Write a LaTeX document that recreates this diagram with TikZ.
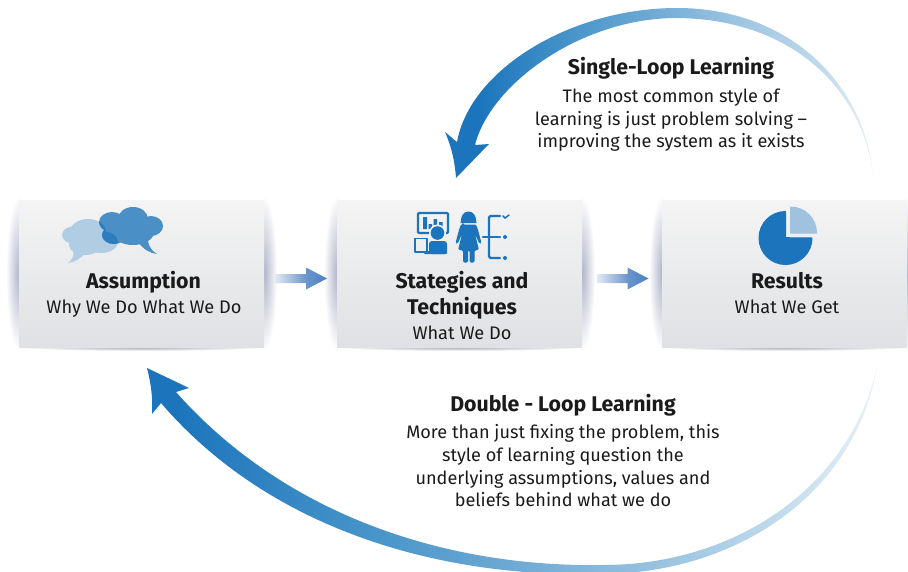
\documentclass[tikz,border=0pt]{standalone}
\usepackage{fontspec}
\setmainfont{Fira Sans}
\usetikzlibrary{calc}
\definecolor{inkc}{HTML}{1A1A1A}
\definecolor{blueA}{HTML}{1C75BC}
\definecolor{cloudD}{HTML}{4A90C6}
\definecolor{cloudO}{HTML}{2B7DBD}
\definecolor{cloudL}{HTML}{B0CDE3}
\definecolor{pieL}{HTML}{9FC2DE}
\definecolor{glowc}{HTML}{B0B4C8}
\definecolor{shadowc}{HTML}{A4A6AE}
\definecolor{boxT}{HTML}{F4F4F4}
\definecolor{boxB}{HTML}{DFE1E4}
\definecolor{sa}{HTML}{4D98CB}
\definecolor{sb}{HTML}{6EA9D4}
\definecolor{sc}{HTML}{99C2E0}
\definecolor{sd}{HTML}{C0DAEC}
\definecolor{se}{HTML}{E8F1F8}
\definecolor{fa}{HTML}{E3E9F4}
\definecolor{fb}{HTML}{6A95CC}
\definecolor{fc}{HTML}{4A80C2}
\pgfdeclarehorizontalshading{loopone}{100bp}{color(0bp)=(blueA);color(29bp)=(blueA);color(41bp)=(sa);color(49bp)=(sb);color(58bp)=(sc);color(69bp)=(sd);color(75bp)=(se);color(100bp)=(se)}
\pgfdeclarehorizontalshading{looptwo}{100bp}{color(0bp)=(blueA);color(27bp)=(blueA);color(42bp)=(sa);color(50bp)=(sb);color(60bp)=(sc);color(68bp)=(sd);color(75bp)=(se);color(100bp)=(se)}
\pgfdeclarehorizontalshading{flowsh}{100bp}{color(0bp)=(fa);color(25bp)=(fa);color(55bp)=(fb);color(75bp)=(fc);color(100bp)=(fc)}
\newcommand{\lightlobes}{(75,235) ellipse [x radius=13,y radius=9] (88,232) ellipse [x radius=18,y radius=13] (101,242) ellipse [x radius=17,y radius=11] (85,245) ellipse [x radius=16,y radius=10]}
\newcommand{\darklobes}{(112,222) ellipse [x radius=13,y radius=10] (133,219) ellipse [x radius=15,y radius=12] (151,226) ellipse [x radius=12,y radius=10] (133,232) ellipse [x radius=21,y radius=13] (114,235) ellipse [x radius=12,y radius=9]}
\tikzset{
  x=1pt,y=-1pt,
  boxnode/.style={rectangle,minimum width=245pt,minimum height=147pt,inner sep=0pt,top color=boxT,bottom color=boxB},
  glowshade/.style={inner color=glowc,outer color=white},
  shadowshade/.style={inner color=shadowc,outer color=white},
  titlenode/.style={inner sep=0pt,text=inkc,anchor=base,font=\fontsize{21.3}{26}\selectfont\bfseries},
  bodynode/.style={inner sep=0pt,text=inkc,anchor=base,font=\fontsize{18.2}{26}\selectfont},
  blocknode/.style={inner sep=0pt,text=inkc,anchor=north,align=center,font=\fontsize{18.1}{22.6}\selectfont},
  iconline/.style={draw=blueA,line width=2.3pt,line join=round,line cap=round},
}
\begin{document}
\begin{tikzpicture}
\useasboundingbox (0,0) rectangle (908,571);
% box glows, then boxes
\coordinate (c1) at (141.5,273.5);
\coordinate (c2) at (459.5,273.5);
\coordinate (c3) at (784.5,273.5);
\foreach \c in {c1,c2,c3}{
  \shade[glowshade] ($(\c)+(-122.5,0)$) ellipse [x radius=13,y radius=78];
  \shade[glowshade] ($(\c)+(122.5,0)$) ellipse [x radius=13,y radius=78];
  \shade[shadowshade] ($(\c)+(0,73.5)$) ellipse [x radius=128,y radius=4];
}
\node[boxnode] (box1) at (c1) {};
\node[boxnode] (box2) at (c2) {};
\node[boxnode] (box3) at (c3) {};
% flow arrows
\coordinate (f1a) at (275,278.5); \coordinate (f1b) at (327,278.5);
\coordinate (f2a) at (597,278.5); \coordinate (f2b) at (648.5,278.5);
\foreach \a/\b in {f1a/f1b,f2a/f2b}{
  \shade[shading=flowsh] ($(\a)+(0,-4.5)$) -- ($(\b)+(-21,-4.5)$) -- ($(\b)+(-21,-11)$) -- (\b) -- ($(\b)+(-21,11)$) -- ($(\b)+(-21,4.5)$) -- ($(\a)+(0,4.5)$) -- cycle;
}
% single loop arrow
\coordinate (s1tail) at (873,175); \coordinate (s1tip) at (456,178);
\shade[shading=loopone] (s1tail) .. controls (865,85) and (790,8) .. (677,8) .. controls (570,8) and (470,70) .. (457,142)
  -- (445,132) .. controls (452,148) and (455,163) .. (s1tip) -- (489,144) -- (475,145)
  .. controls (490,85) and (580,18) .. (677,18) .. controls (790,19) and (862,87) .. (s1tail) -- cycle;
% double loop arrow
\coordinate (d1tail) at (877,367); \coordinate (d1tip) at (147,368);
\shade[shading=looptwo] (d1tail) .. controls (855,495) and (735,574) .. (600,574) .. controls (440,578) and (270,530) .. (161,403)
  -- (152,414) .. controls (153,398) and (151,384) .. (d1tip) -- (189,388) -- (176,392)
  .. controls (285,515) and (445,567) .. (600,565) .. controls (735,566) and (850,487) .. (d1tail) -- cycle;
% labels
\node[titlenode] (t1) at (143.5,288.5) {Assumption};
\node[bodynode] (s1) at (144,313.5) {Why We Do What We Do};
\node[titlenode] (t2a) at (462,288.5) {Stategies and};
\node[titlenode] (t2b) at (462,314.3) {Techniques};
\node[bodynode] (s2) at (462,339.5) {What We Do};
\node[titlenode] (t3) at (787,288.5) {Results};
\node[bodynode] (s3) at (787,313.5) {What We Get};
\node[titlenode] (t4) at (671,74.5) {Single-Loop Learning};
\node[blocknode] (b4) at (671,89) {The most common style of\\learning is just problem solving –\\improving the system as it exists};
\node[titlenode] (t5) at (563,411.5) {Double - Loop Learning};
\node[blocknode] (b5) at (563,424.5) {More than just fixing the problem, this\\style of learning question the\\underlying assumptions, values and\\beliefs behind what we do};
% cloud icon
\fill[cloudL] \lightlobes;
\fill[cloudL] (73,250) .. controls (75,256) and (72,260) .. (68,263) .. controls (75,262) and (82,258) .. (86,252) -- cycle;
\fill[cloudD] \darklobes;
\fill[cloudD] (138,242) .. controls (144,250) and (150,253) .. (157,254) .. controls (152,251) and (149,247) .. (148,241) -- cycle;
\begin{scope}
  \clip \lightlobes;
  \fill[cloudO] \darklobes;
\end{scope}
% presenter icon
\draw[iconline,rounded corners=1pt] (418,213) rectangle (448,233);
\fill[blueA] (423,217) rectangle (427,229) (428.5,224) rectangle (432,229) (433.5,219) rectangle (437,229) (439,222) rectangle (442.5,229);
\fill[black!5] (437.5,233) circle (8.5);
\fill[blueA] (437.5,233) circle (6.8);
\fill[blueA,rounded corners=3pt] (429,241) rectangle (447,254);
\draw[blueA,line width=1.5pt,line join=round] (415,238.5) rectangle (427,252);
\fill[blueA,rounded corners=1pt] (424,251) rectangle (447,254);
% woman icon
\fill[blueA] (468.5,211.5) .. controls (474,211.5) and (476,216) .. (476.5,223) -- (460.5,223) .. controls (461,216) and (463,211.5) .. (468.5,211.5) -- cycle;
\fill[blueA,line join=round,rounded corners=1.5pt] (463,224.5) -- (474,224.5) .. controls (477,225) and (478,230) .. (481.5,243) -- (479.5,244) -- (475,234) -- (479,250) -- (474.5,250) -- (474.5,262.5) -- (469.5,262.5) -- (469.5,250) -- (468,250) -- (468,262.5) -- (463,262.5) -- (463,250) -- (458,250) -- (462,234) -- (457.5,244) -- (455.5,243) .. controls (459,230) and (460,225) .. (463,224.5) -- cycle;
% bracket list icon
\draw[iconline,rounded corners=1.5pt] (500,216) -- (489,216) -- (489,258) -- (500,258);
\draw[iconline] (483,237) -- (500,237);
\fill[blueA] (505,237) circle (2) (505,258) circle (2);
\draw[blueA,line width=1.5pt,line cap=round] (503,216) -- (505,218) -- (509,215);
% pie icon
\fill[blueA,draw=blueA,line width=1pt,line join=round] (785.5,237.7) -- (785.5,211.5) arc[start angle=270,end angle=0,radius=26.5] -- cycle;
\fill[pieL,draw=pieL,line width=1pt,line join=round] (790.5,233) -- (790.5,207) arc[start angle=270,end angle=360,radius=26] -- cycle;
\end{tikzpicture}
\end{document}
